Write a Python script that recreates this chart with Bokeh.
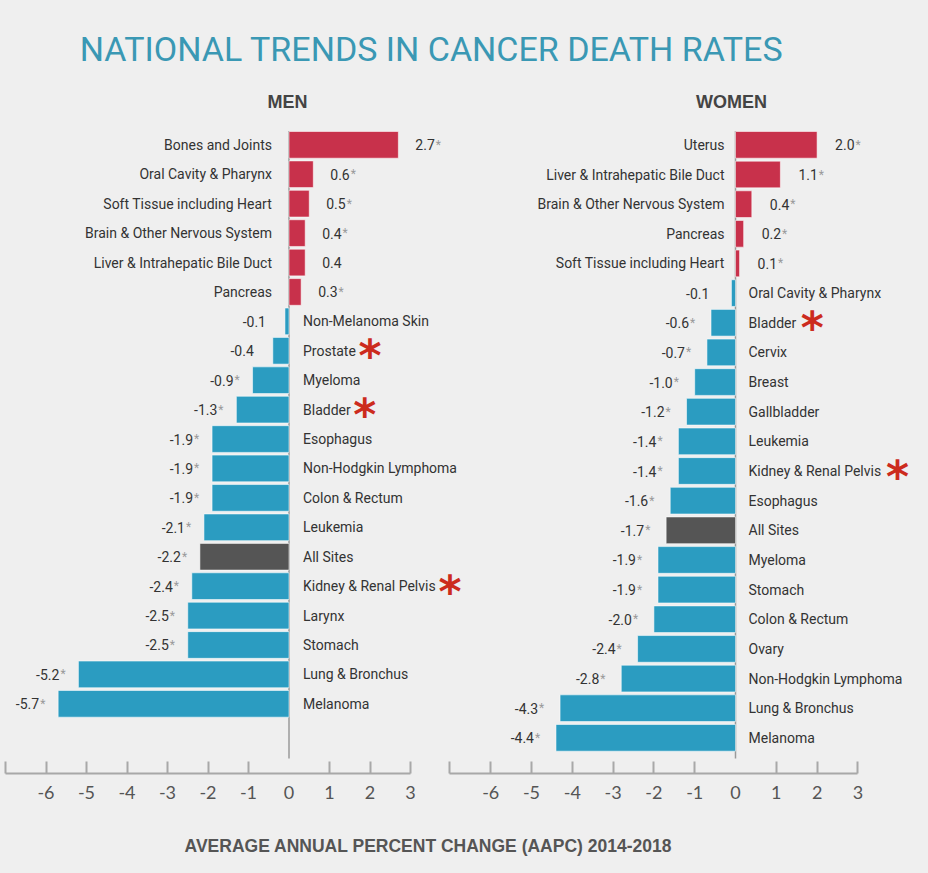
from bokeh.plotting import figure
from bokeh.models import ColumnDataSource, Range1d, FixedTicker
from bokeh.layouts import column, row
from bokeh.embed import file_html
from bokeh.resources import INLINE
from bokeh.core.properties import value

# ---------------- data ----------------
men_sites = ["Bones and Joints", "Oral Cavity & Pharynx", "Soft Tissue including Heart",
             "Brain & Other Nervous System", "Liver & Intrahepatic Bile Duct", "Pancreas",
             "Non-Melanoma Skin", "Prostate", "Myeloma", "Bladder", "Esophagus",
             "Non-Hodgkin Lymphoma", "Colon & Rectum", "Leukemia", "All Sites",
             "Kidney & Renal Pelvis", "Larynx", "Stomach", "Lung & Bronchus", "Melanoma"]
men_aapc = [2.7, 0.6, 0.5, 0.4, 0.4, 0.3, -0.1, -0.4, -0.9, -1.3, -1.9, -1.9, -1.9,
            -2.1, -2.2, -2.4, -2.5, -2.5, -5.2, -5.7]
men_sig = [True, True, True, True, False, True, False, False, True, True, True, True, True,
           True, True, True, True, True, True, True]
men_marked = ["Prostate", "Bladder", "Kidney & Renal Pelvis"]

women_sites = ["Uterus", "Liver & Intrahepatic Bile Duct", "Brain & Other Nervous System",
               "Pancreas", "Soft Tissue including Heart", "Oral Cavity & Pharynx", "Bladder",
               "Cervix", "Breast", "Gallbladder", "Leukemia", "Kidney & Renal Pelvis",
               "Esophagus", "All Sites", "Myeloma", "Stomach", "Colon & Rectum", "Ovary",
               "Non-Hodgkin Lymphoma", "Lung & Bronchus", "Melanoma"]
women_aapc = [2.0, 1.1, 0.4, 0.2, 0.1, -0.1, -0.6, -0.7, -1.0, -1.2, -1.4, -1.4, -1.6,
              -1.7, -1.9, -1.9, -2.0, -2.4, -2.8, -4.3, -4.4]
women_sig = [True, True, True, True, True, False, True, True, True, True, True, True, True,
             True, True, True, True, True, True, True, True]
women_marked = ["Bladder", "Kidney & Renal Pelvis"]

tick_values = [-6, -5, -4, -3, -2, -1, 0, 1, 2, 3]
tick_labels = ["-6", "-5", "-4", "-3", "-2", "-1", "0", "1", "2", "3"]
minor_tick_values = [-7, -6, -5, -4, -3, -2, -1, 1, 2, 3]

title_text = "NATIONAL TRENDS IN CANCER DEATH RATES"
men_title = "MEN"
women_title = "WOMEN"
x_title = "AVERAGE ANNUAL PERCENT CHANGE (AAPC) 2014-2018"

# ---------------- style ----------------
BG = "#efefef"
RED = "#c8314b"
BLUE = "#2b9cc1"
ALL = "#555555"
STAR = "#cc2b1d"
TEXT = "#333333"
AXIS = "#a8a8a8"
TEAL = "#3a98b4"
LFONT = "Roboto"
LABEL_SIZE = 14

# approximate Roboto advance widths (per 1000 em)
WID = {" ": 248, "&": 630, "-": 276, ".": 263,
       "A": 652, "B": 622, "C": 652, "D": 657, "E": 566, "F": 551, "G": 682, "H": 713,
       "I": 278, "J": 552, "K": 627, "L": 538, "M": 873, "N": 713, "O": 690, "P": 632,
       "Q": 690, "R": 616, "S": 607, "T": 614, "U": 649, "V": 636, "W": 887, "X": 627,
       "Y": 601, "Z": 612,
       "a": 544, "b": 561, "c": 523, "d": 563, "e": 530, "f": 347, "g": 561, "h": 551,
       "i": 243, "j": 239, "k": 507, "l": 243, "m": 876, "n": 552, "o": 570, "p": 561,
       "q": 568, "r": 338, "s": 516, "t": 327, "u": 551, "v": 484, "w": 751, "x": 496,
       "y": 473, "z": 496}


def est_width(s, size):
    return sum(WID.get(c, 561) for c in s) / 1000.0 * size


def panel(sites, vals, sig, marked, width, xr, pitch, gap_lab_pos, gap_lab_neg,
          gap_val_pos, gap_val_neg, star_gap, **kw):
    n = len(sites)
    top = -26.35 / pitch
    bottom = top + 655.0 / pitch
    p = figure(width=width, height=692, x_range=Range1d(*xr), y_range=Range1d(bottom, top),
               output_backend="svg", toolbar_location=None, x_axis_location="below",
               y_axis_location=None, min_border_left=0, min_border_right=0,
               min_border_top=0, min_border_bottom=37, outline_line_color=None, **kw)
    p.xgrid.visible = False
    p.ygrid.visible = False

    rows = list(range(n))
    colors = [ALL if s == "All Sites" else (RED if v > 0 else BLUE) for s, v in zip(sites, vals)]
    src = ColumnDataSource(dict(row=rows, site=sites, aapc=vals, color=colors))

    p.segment(x0=[0], y0=[-0.47], x1=[0], y1=[top + 640.0 / pitch],
              line_color="#9a9a9a", line_width=1.5)
    p.hbar(y="row", left=0, right="aapc", height=26.7 / pitch, fill_color="color",
           line_color="white", line_alpha=0.55, line_width=1, source=src)

    pos = [i for i in rows if vals[i] > 0]
    neg = [i for i in rows if vals[i] <= 0]

    def sub(idx):
        return ColumnDataSource(dict(
            row=[rows[i] for i in idx], site=[sites[i] for i in idx],
            aapc=[vals[i] for i in idx], lab=["%.1f" % vals[i] for i in idx]))

    sp, sn = sub(pos), sub(neg)
    common = dict(text_font=value(LFONT), text_font_size="%spx" % LABEL_SIZE,
                  text_color=TEXT, text_baseline="middle")
    # category labels
    p.text(x=0, y="row", text="site", text_align="right", x_offset=-gap_lab_pos,
           source=sp, **common)
    p.text(x=0, y="row", text="site", text_align="left", x_offset=gap_lab_neg,
           source=sn, **common)
    # value labels
    p.text(x="aapc", y="row", text="lab", text_align="left", x_offset=gap_val_pos,
           source=sp, **common)
    p.text(x="aapc", y="row", text="lab", text_align="right", x_offset=-gap_val_neg,
           source=sn, **common)

    # small significance asterisks
    sp_sig = [i for i in pos if sig[i]]
    sn_sig = [i for i in neg if sig[i]]
    star_common = dict(text_font=value(LFONT), text_font_size="12px", text_color="#9a9a9a",
                       text_baseline="middle", text_align="left")
    p.text(x=[vals[i] for i in sp_sig], y=[rows[i] for i in sp_sig],
           text=["*"] * len(sp_sig),
           x_offset=[gap_val_pos + est_width("%.1f" % vals[i], LABEL_SIZE) + 1 for i in sp_sig],
           **star_common)
    p.text(x=[vals[i] for i in sn_sig], y=[rows[i] for i in sn_sig],
           text=["*"] * len(sn_sig), x_offset=-gap_val_neg + 1, **star_common)

    # red asterisks
    mk = [i for i in rows if sites[i] in marked]
    p.text(x=[0] * len(mk), y=[rows[i] for i in mk], text=["*"] * len(mk),
           x_offset=[gap_lab_neg + est_width(sites[i], LABEL_SIZE) + star_gap for i in mk],
           y_offset=5, text_align="center", text_baseline="alphabetic",
           text_font=value("DejaVu Sans"), text_font_style="bold", text_font_size="44px",
           text_color=STAR)

    ax = p.xaxis[0]
    ax.ticker = FixedTicker(ticks=tick_values, minor_ticks=minor_tick_values)
    ax.major_label_overrides = {t: l for t, l in zip(tick_values, tick_labels)}
    ax.bounds = (-7, 3)
    ax.major_tick_in = 0
    ax.major_tick_out = 0
    ax.major_tick_line_color = None
    ax.minor_tick_in = 12
    ax.minor_tick_out = 0
    ax.minor_tick_line_color = AXIS
    ax.minor_tick_line_width = 2
    ax.axis_line_color = AXIS
    ax.axis_line_width = 2
    ax.major_label_text_font = "Lato"
    ax.major_label_text_font_size = "18px"
    ax.major_label_text_color = "#555555"
    ax.major_label_standoff = 12
    return p


men = panel(men_sites, men_aapc, men_sig, men_marked, 470,
            (-288.5 / 40.5, (470 - 288.5) / 40.5), 29.42,
            17, 14, 17, 19, 14,
            background_fill_color=BG, border_fill_color=BG)
women = panel(women_sites, women_aapc, women_sig, women_marked, 481,
              (-288.0 / 40.8, (481 - 288.0) / 40.8), 29.65,
              11, 13, 18, 22, 16,
              background_fill_alpha=0, border_fill_alpha=0)
women.margin = (0, 0, 0, -23)

header = figure(width=928, height=118, x_range=Range1d(0, 928), y_range=Range1d(118, 0),
                output_backend="svg", toolbar_location=None, x_axis_location=None,
                y_axis_location=None, min_border=0, outline_line_color=None,
                background_fill_color=BG, border_fill_color=BG)
header.xgrid.visible = False
header.ygrid.visible = False
header.text(x=[431], y=[48], text=[title_text], text_align="center", text_baseline="middle",
            text_font=value("Roboto"), text_font_size="34px", text_color=TEAL)
header.text(x=[287, 731], y=[101, 101], text=[men_title, women_title], text_align="center",
            text_baseline="middle", text_font=value("Liberation Sans"), text_font_style="bold",
            text_font_size="18px", text_color="#444444")

footer = figure(width=928, height=63, x_range=Range1d(0, 928), y_range=Range1d(63, 0),
                output_backend="svg", toolbar_location=None, x_axis_location=None,
                y_axis_location=None, min_border=0, outline_line_color=None,
                background_fill_color=BG, border_fill_color=BG)
footer.xgrid.visible = False
footer.ygrid.visible = False
footer.text(x=[428], y=[35], text=[x_title], text_align="center", text_baseline="middle",
            text_font=value("Liberation Sans"), text_font_style="bold",
            text_font_size="17.5px", text_color="#555555")

layout = column(header, row(men, women), footer, styles={"background-color": BG})

with open("out.html", "w") as f:
    f.write(file_html(layout, INLINE, title="National Trends in Cancer Death Rates"))
